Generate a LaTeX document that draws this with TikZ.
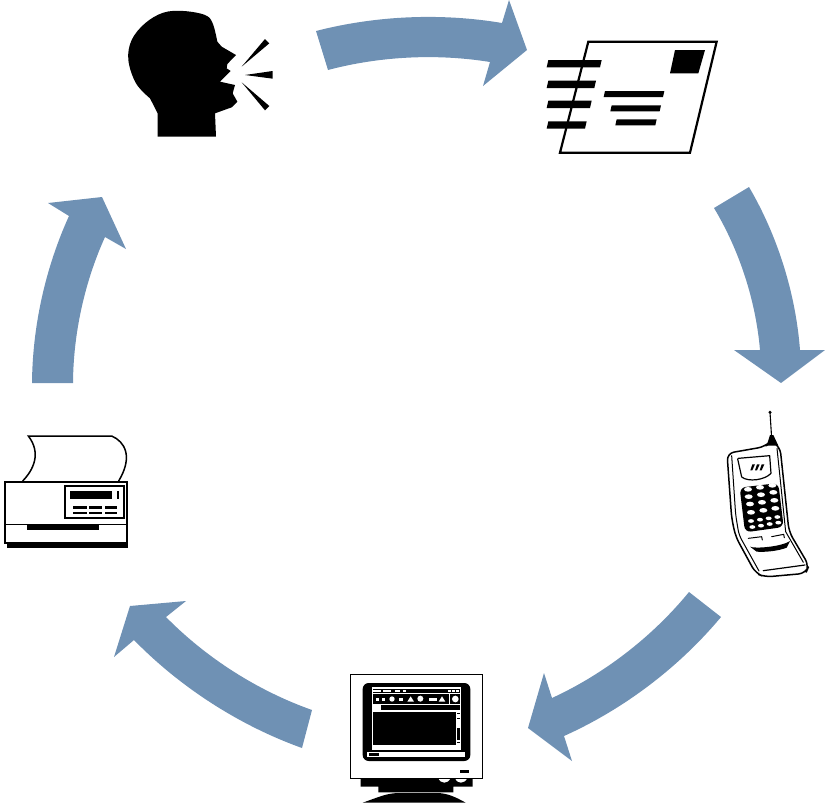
\documentclass[tikz,border=0pt]{standalone}
\usetikzlibrary{calc}
\definecolor{arrowblue}{RGB}{111,145,180}
\tikzset{
  flowarrow/.style={fill=arrowblue, draw=none, looseness=.85},
  inkfill/.style={fill=black, draw=none},
  paperfill/.style={fill=white, draw=none},
  inkline/.style={draw=black, line width=1.5pt, line join=round, line cap=round}
}
\begin{document}
\begin{tikzpicture}[x=1pt,y=-1pt]
\useasboundingbox (0,0) rectangle (825,806);

% block arrows
\fill[flowarrow] (316,31) to[bend left=12] (502,23) -- (509,0) -- (527,50) -- (483,86) -- (490,62) to[bend right=12] (328,70) -- cycle;
\fill[flowarrow] (749,187) to[bend left=13] (800,350) -- (825,350) -- (781,383) -- (734,350) -- (760,350) to[bend right=13] (714,208) -- cycle;
\fill[flowarrow] (721,617) to[bend left=13] (564,736) -- (572,761) -- (528,728) -- (544,673) -- (552,698) to[bend right=13] (689,592) -- cycle;
\fill[flowarrow] (302,748) to[bend left=13] (134,640) -- (114,657) -- (130,606) -- (186,601) -- (166,617) to[bend right=13] (312,710) -- cycle;
\fill[flowarrow] (32,383) to[bend left=12] (69,216) -- (48,203) -- (102,197) -- (126,249) -- (105,237) to[bend right=12] (73,383) -- cycle;

% speaking head
\begin{scope}[shift={(110,0)},scale=1/3]
\fill[inkfill] (143,410) -- (143,340) -- plot[smooth,tension=.6] coordinates {(120,295) (78,250) (55,180) (65,120) (105,70) (160,38) (220,33) (285,45) (308,70) (322,125)} -- (335,140) -- (378,165) -- (352,192) -- (350,205) -- (362,213) -- (330,245) -- (375,255) -- (368,280) -- (382,305) -- (365,322) -- (315,340) -- (318,410) -- cycle;
\fill[inkfill] (395,200) -- (465,117) -- (478,130) -- cycle;
\fill[inkfill] (405,225) -- (488,213) -- (488,236) -- cycle;
\fill[inkfill] (395,247) -- (478,318) -- (465,331) -- cycle;
\end{scope}

% postcard
\begin{scope}[shift={(535,30)},scale=1/3]
\draw[line width=2.2pt,miter limit=4] (160,35) -- (545,35) -- (465,368) -- (75,368) -- cycle;
\fill[inkfill] (420,60) -- (510,60) -- (490,130) -- (405,130) -- cycle;
\foreach \y/\w in {90/200, 152/183, 212/170, 274/155}{
  \fill[inkfill] (40,\y) -- (\w,\y) -- (\w-5,\y+22) -- (35,\y+22) -- cycle;
}
\foreach \x/\y/\w in {210/183/388, 230/226/378, 245/268/365}{
  \fill[inkfill] (\x,\y) -- (\w,\y) -- (\w-4,\y+18) -- (\x-4,\y+18) -- cycle;
}
\end{scope}

% handset
\begin{scope}[shift={(715,405)},scale=1/3]
\draw[line width=1.1pt] (165,22) -- (170,100);
\fill[inkfill] (165,22) circle (5);
\fill[inkfill] (155,122) -- (165,90) -- (175,90) -- (190,122) -- cycle;
\draw[inkline,line width=1.5pt,rounded corners=7pt] (36,145) -- (150,125) -- (168,108) -- (195,125) -- (222,380) -- (282,482) -- (272,505) -- (150,516) -- (122,505) -- (62,395) -- (50,340) -- cycle;
\draw[inkline,line width=1pt,rounded corners=5pt] (50,152) -- (62,330) -- (72,390) -- (132,498);
\draw[inkline,line width=1pt] (186,130) -- (212,380) -- (265,472);
\draw[inkline,line width=1.2pt] (70,160) -- (164,152) (168,205) .. controls (150,225) and (100,232) .. (80,216) (68,162) -- (80,216) (164,152) -- (168,205);
\foreach \x in {0,1,2}{
  \fill[inkfill] (112+\x*14,178) -- (120+\x*14,178) -- (112+\x*14,196) -- (106+\x*14,196) -- cycle;
}
\fill[inkfill,rounded corners=6pt] (74,248) -- (190,234) -- (206,366) -- (90,382) -- cycle;
\foreach \x/\y in {99/253,135/247,172/241, 101/275,138/269,175/262, 105/297,141/292,178/286, 108/322,145/316,181/310}{
  \fill[white] (\x,\y) ellipse (12 and 7);
}
\foreach \x/\y in {108/348,135/344,161/340,187/336, 112/366,138/362,164/357,190/353}{
  \fill[white] (\x,\y) ellipse (9 and 5.5);
}
\draw[inkline,line width=1pt] (100,400) -- (140,395) -- (142,405);
\draw[inkline,line width=1pt] (170,395) -- (206,388) -- (208,398);
\fill[inkfill] (105,425) .. controls (120,432) and (200,425) .. (225,408) -- (215,428) .. controls (190,438) and (150,442) .. (125,440) -- cycle;
\draw[inkline,line width=1.2pt] (145,497) -- (270,480);
\end{scope}

% monitor
\begin{scope}[shift={(340,665)},scale=1/3]
\fill[inkfill] (62,340) -- (62,365) -- (115,365) -- (115,382) -- (340,382) -- (340,365) -- (398,365) -- (398,340) -- cycle;
\fill[inkfill] (68,413) .. controls (120,395) and (140,384) .. (180,384) -- (290,384) .. controls (320,384) and (345,395) .. (377,413) -- cycle;
\fill[white] (295,338) .. controls (300,358) and (325,358) .. (332,338) -- cycle;
\fill[white] (345,338) .. controls (350,358) and (375,358) .. (382,338) -- cycle;
\draw[line width=1pt,fill=white] (30,28) rectangle (428,340);
\fill[inkfill,rounded corners=6pt] (68,54) rectangle (391,288);
\fill[paperfill] (95,67) rectangle (363,256);
\fill[inkfill] (98,71) rectangle (360,83);
\fill[inkfill] (98,88) rectangle (326,117);
\fill[inkfill] (330,88) rectangle (360,117);
\fill[inkfill] (122,121) rectangle (360,136);
\fill[inkfill] (98,140) rectangle (347,241);
\fill[inkfill] (350,145) rectangle (361,235);
\foreach \x/\w in {100/122,130/152,164/180,190/198,324/332,336/344,348/357}{
  \fill[white] (\x,74) rectangle (\w,80);
}
\foreach \x/\w in {108/118,126/136,176/188,267/290}{
  \fill[white] (\x,98) rectangle (\w,107);
}
\fill[white] (156,102) circle (8);
\fill[white] (212,94) -- (222,110) -- (202,110) -- cycle;
\fill[white] (241,101) circle (9);
\fill[white] (306,94) -- (316,110) -- (296,110) -- cycle;
\fill[white] (346,102) circle (10);
\fill[white] (352,148) rectangle (359,158);
\fill[white] (352,162) rectangle (359,188);
\fill[white] (352,224) rectangle (359,232);
\fill[paperfill] (80,260) rectangle (374,276);
\fill[inkfill] (86,263) rectangle (118,273);
\fill[inkfill] (360,316) rectangle (386,325);
\end{scope}

% printer
\begin{scope}[shift={(0,425)},scale=1/3]
\draw[line width=1.5pt] (68,168) .. controls (100,135) and (125,85) .. (85,33) -- (335,33) .. controls (375,50) and (400,95) .. (356,168);
\fill[inkfill] (22,352) rectangle (383,368);
\draw[line width=2pt,fill=white] (15,170) rectangle (382,353);
\draw[line width=1pt] (15,298) -- (382,298);
\fill[inkfill] (80,298) rectangle (298,315);
\draw[line width=2pt] (196,184) rectangle (372,280);
\fill[inkfill] (210,197) rectangle (337,222);
\fill[inkfill] (350,197) rectangle (358,222);
\foreach \x/\w in {220/260,268/306,315/352}{
  \fill[inkfill] (\x,242) rectangle (\w,251);
  \fill[inkfill] (\x,260) rectangle (\w,268);
}
\end{scope}
\end{tikzpicture}
\end{document}
